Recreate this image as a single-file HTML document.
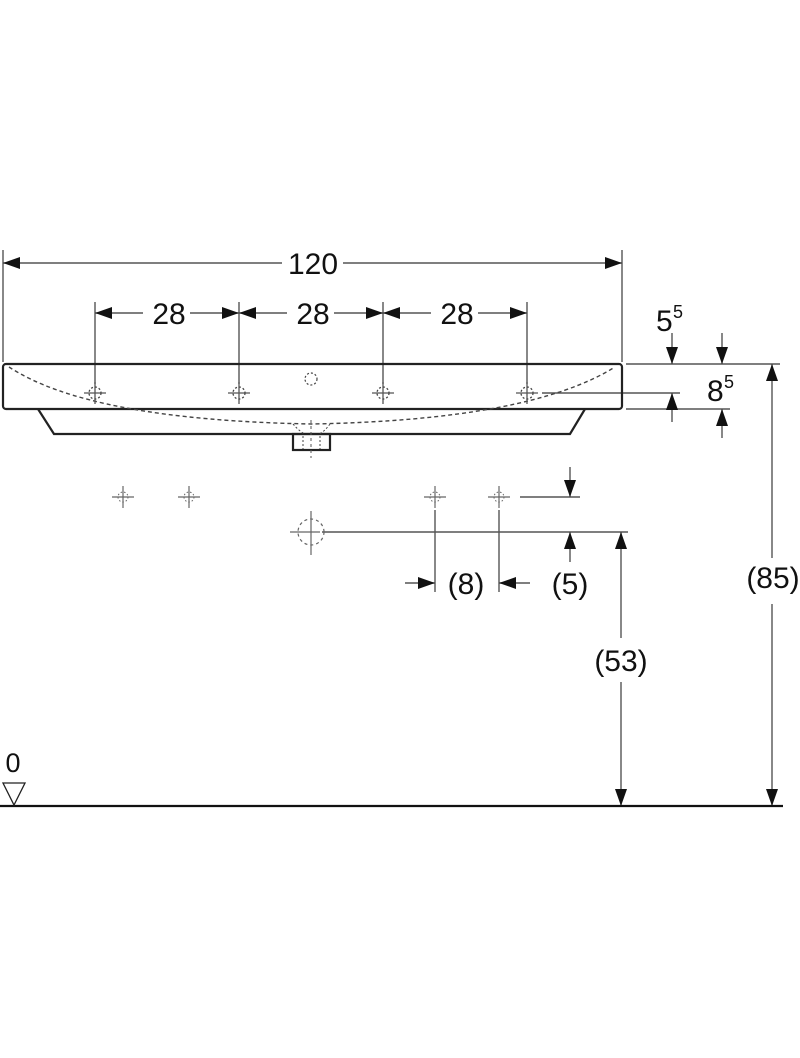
<!DOCTYPE html>
<html><head><meta charset="utf-8"><style>
html,body{margin:0;padding:0;background:#fff;width:800px;height:1058px;overflow:hidden}
svg{display:block}
text{font-family:"Liberation Sans",Arial,sans-serif;fill:#111}
</style></head><body>
<svg width="800" height="1058" viewBox="0 0 800 1058" xmlns="http://www.w3.org/2000/svg">
<defs>
<g id="hole">
  <line x1="-11" y1="0" x2="11" y2="0" stroke="#555" stroke-width="1.3"/>
  <line x1="0" y1="-11" x2="0" y2="11" stroke="#555" stroke-width="1.3"/>
  <circle r="6" fill="none" stroke="#444" stroke-width="1.3" stroke-dasharray="2,2"/>
</g>
<g id="shole">
  <line x1="-11" y1="0" x2="11" y2="0" stroke="#666" stroke-width="1.2"/>
  <line x1="0" y1="-11" x2="0" y2="11" stroke="#666" stroke-width="1.2"/>
  <circle r="5" fill="none" stroke="#666" stroke-width="1" stroke-dasharray="1.5,2"/>
</g>
</defs>
<g stroke="#555" stroke-width="1.4" fill="none">
  <line x1="3" y1="250" x2="3" y2="362"/>
  <line x1="622" y1="250" x2="622" y2="362"/>
  <line x1="3" y1="263" x2="282" y2="263"/>
  <line x1="343" y1="263" x2="622" y2="263"/>
  <line x1="95" y1="302" x2="95" y2="384"/>
  <line x1="239" y1="302" x2="239" y2="384"/>
  <line x1="383" y1="302" x2="383" y2="384"/>
  <line x1="527" y1="302" x2="527" y2="384"/>
  <line x1="95" y1="313" x2="143" y2="313"/>
  <line x1="190" y1="313" x2="239" y2="313"/>
  <line x1="239" y1="313" x2="287" y2="313"/>
  <line x1="334" y1="313" x2="383" y2="313"/>
  <line x1="383" y1="313" x2="431" y2="313"/>
  <line x1="478" y1="313" x2="527" y2="313"/>
  <line x1="626" y1="364" x2="780" y2="364"/>
  <line x1="626" y1="409" x2="730" y2="409"/>
  <line x1="542" y1="393" x2="680" y2="393"/>
  <line x1="672" y1="333" x2="672" y2="364"/>
  <line x1="672" y1="393" x2="672" y2="422"/>
  <line x1="722" y1="333" x2="722" y2="364"/>
  <line x1="722" y1="409" x2="722" y2="438"/>
  <line x1="772" y1="364" x2="772" y2="558"/>
  <line x1="772" y1="604" x2="772" y2="806"/>
  <line x1="621" y1="532" x2="621" y2="638"/>
  <line x1="621" y1="682" x2="621" y2="806"/>
  <line x1="322" y1="532" x2="628" y2="532"/>
  <line x1="520" y1="497" x2="580" y2="497"/>
  <line x1="570" y1="467" x2="570" y2="497"/>
  <line x1="570" y1="532" x2="570" y2="562"/>
  <line x1="435" y1="510" x2="435" y2="592"/>
  <line x1="499" y1="510" x2="499" y2="592"/>
  <line x1="405" y1="583" x2="435" y2="583"/>
  <line x1="499" y1="583" x2="530" y2="583"/>
</g>
<g stroke="#222" stroke-width="2.2" fill="none">
  <rect x="3" y="364" width="619" height="45" rx="3"/>
  <polyline points="38,409 54,434 570,434 585,409"/>
  <rect x="293" y="434" width="37" height="16"/>
</g>
<path d="M9,367 Q90,420 312,424 Q530,420 615,367" stroke="#444" stroke-width="1.4" fill="none" stroke-dasharray="4,3"/>
<path d="M293,424 Q300,432 305,434 M330,424 Q324,432 319,434" stroke="#444" stroke-width="1" fill="none" stroke-dasharray="2,2"/>
<line x1="311" y1="420" x2="311" y2="458" stroke="#555" stroke-width="1" stroke-dasharray="3,3"/>
<line x1="303" y1="436" x2="303" y2="449" stroke="#444" stroke-width="1" stroke-dasharray="2,2"/>
<line x1="320" y1="436" x2="320" y2="449" stroke="#444" stroke-width="1" stroke-dasharray="2,2"/>
<circle cx="311" cy="379" r="6" fill="none" stroke="#444" stroke-width="1.2" stroke-dasharray="2,2"/>
<use href="#hole" x="95" y="393"/>
<use href="#hole" x="239" y="393"/>
<use href="#hole" x="383" y="393"/>
<use href="#hole" x="527" y="393"/>
<use href="#shole" x="123" y="497"/>
<use href="#shole" x="189" y="497"/>
<use href="#shole" x="435" y="497"/>
<use href="#shole" x="499" y="497"/>
<g stroke="#666" stroke-width="1.2" fill="none">
  <line x1="290" y1="532" x2="320" y2="532"/>
  <line x1="311" y1="511" x2="311" y2="555"/>
  <circle cx="311" cy="532" r="13" stroke-dasharray="3,3"/>
</g>
<g fill="#111">
  <polygon points="3,263 20,257 20,269"/>
  <polygon points="622,263 605,257 605,269"/>
  <polygon points="95,313 112,307 112,319"/>
  <polygon points="239,313 222,307 222,319"/>
  <polygon points="239,313 256,307 256,319"/>
  <polygon points="383,313 366,307 366,319"/>
  <polygon points="383,313 400,307 400,319"/>
  <polygon points="527,313 510,307 510,319"/>
  <polygon points="672,364 666,347 678,347"/>
  <polygon points="672,393 666,410 678,410"/>
  <polygon points="722,364 716,347 728,347"/>
  <polygon points="722,409 716,426 728,426"/>
  <polygon points="772,364 766,381 778,381"/>
  <polygon points="772,806 766,789 778,789"/>
  <polygon points="621,532 615,549 627,549"/>
  <polygon points="621,806 615,789 627,789"/>
  <polygon points="570,497 564,480 576,480"/>
  <polygon points="570,532 564,549 576,549"/>
  <polygon points="435,583 418,577 418,589"/>
  <polygon points="499,583 516,577 516,589"/>
</g>
<line x1="0" y1="806" x2="783" y2="806" stroke="#111" stroke-width="2.2"/>
<polygon points="3,783 25,783 14,805" fill="none" stroke="#222" stroke-width="1.3"/>
<g font-size="30" text-anchor="middle">
  <text x="313" y="274">120</text>
  <text x="169" y="324">28</text>
  <text x="313" y="324">28</text>
  <text x="457" y="324">28</text>
  <text x="466" y="594">(8)</text>
  <text x="570" y="594">(5)</text>
  <text x="621" y="671">(53)</text>
  <text x="773" y="588">(85)</text>
  <text x="13" y="772" font-size="27">0</text>
</g>
<text x="656" y="331" font-size="30">5</text><text x="673" y="318" font-size="18">5</text>
<text x="707" y="401" font-size="30">8</text><text x="724" y="388" font-size="18">5</text>
</svg>
</body></html>
